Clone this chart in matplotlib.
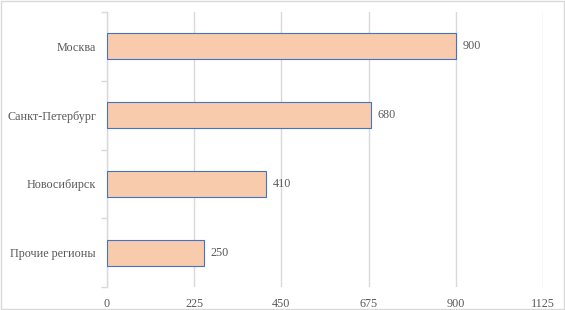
import matplotlib.pyplot as plt
import numpy as np

regions = ['Москва', 'Санкт-Петербург', 'Новосибирск', 'Прочие регионы']
values = [900, 680, 410, 250]
xticks = [0, 225, 450, 675, 900, 1125]

plt.rcParams['font.family'] = ['Liberation Serif', 'DejaVu Serif']
txt = '#595959'
fs = 8.7

fig = plt.figure(figsize=(5.65, 3.1), dpi=100)
ax = fig.add_axes([107/565, 1-287/310, 436/565, 275/310])

y = np.arange(len(regions))
ax.barh(y, values, height=0.38, color='#F8CBAD', edgecolor='#4472C4', linewidth=0.8, zorder=3)
for yi, v in zip(y, values):
    ax.text(v + 17, yi, str(v), va='center', ha='left', fontsize=fs, color=txt)

ax.set_xlim(0, 1125)
ax.set_ylim(len(regions) - 0.5, -0.5)
ax.set_xticks(xticks)
ax.set_yticks(y)
ax.set_yticklabels(regions)
ax.set_yticks(np.arange(-0.5, len(regions)), minor=True)
ax.tick_params(axis='y', which='major', length=0, pad=8, labelsize=fs, labelcolor=txt)
ax.tick_params(axis='y', which='minor', length=4, color='#D9D9D9', width=1)
ax.tick_params(axis='x', length=0, pad=8, labelsize=fs, labelcolor=txt)
ax.grid(axis='x', color='#D9D9D9', linewidth=1, zorder=0)

for s in ['top', 'right', 'bottom']:
    ax.spines[s].set_visible(False)
ax.spines['left'].set_color('#D9D9D9')
ax.spines['left'].set_linewidth(1)

fig.patches.append(plt.Rectangle((0.001, 0.002), 0.997, 0.995, transform=fig.transFigure,
                                 fill=False, edgecolor='#D9D9D9', linewidth=1))
fig.savefig('out.png', dpi=100)
